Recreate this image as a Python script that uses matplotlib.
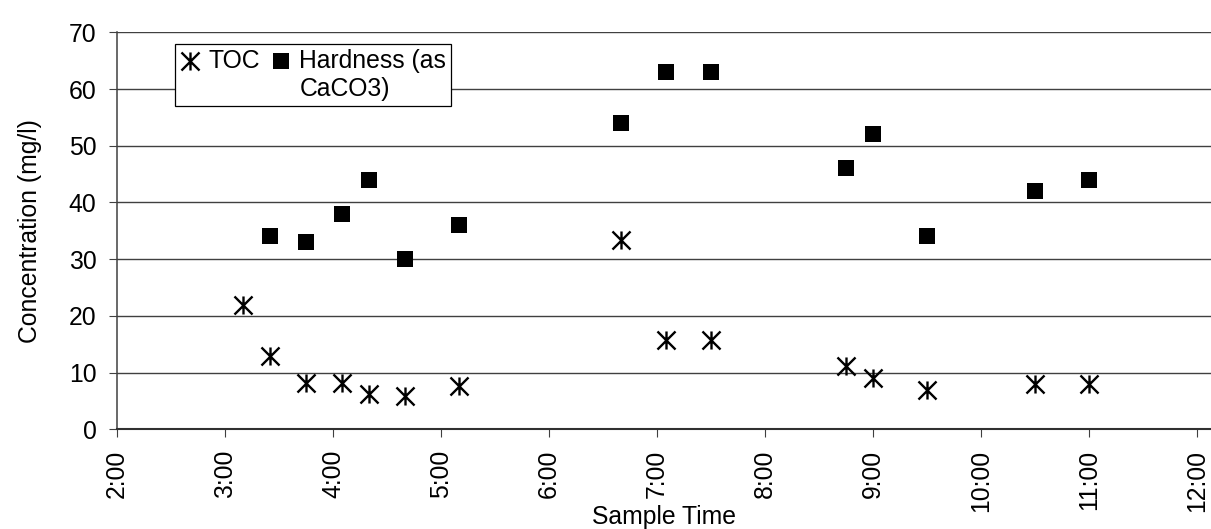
import numpy as np
import matplotlib
matplotlib.use("Agg")
import matplotlib.pyplot as plt
from matplotlib.path import Path
from matplotlib.legend_handler import HandlerLine2D

plt.rcParams['font.family'] = ['Liberation Sans', 'DejaVu Sans']

# sample times and measured concentrations (mg/l)
times = ['3:10', '3:25', '3:45', '4:05', '4:20', '4:40', '5:10', '6:40',
         '7:05', '7:30', '8:45', '9:00', '9:30', '10:30', '11:00']
toc = [22.0, 12.9, 8.2, 8.2, 6.3, 5.9, 7.6, 33.3, 15.8, 15.8, 11.1, 9.1, 6.9, 8.0, 8.0]
hardness = [np.nan, 34, 33, 38, 44, 30, 36, 54, 63, 63, 46, 52, 34, 42, 44]

tick_hours = list(range(2, 13))
tick_labels = ['%d:00' % h for h in tick_hours]
yticks = list(range(0, 71, 10))


def to_hours(t):
    h, m = t.split(':')
    return int(h) + int(m) / 60.0


x = [to_hours(t) for t in times]

# asterisk: vertical bar plus an X
star = Path([(0, -1), (0, 1), (-1, -1), (1, 1), (-1, 1), (1, -1)],
            [Path.MOVETO, Path.LINETO, Path.MOVETO, Path.LINETO, Path.MOVETO, Path.LINETO])


class TopHandler(HandlerLine2D):
    # put legend markers on the first text line
    def create_artists(self, legend, orig_handle, xdescent, ydescent,
                       width, height, fontsize, trans):
        arts = super().create_artists(legend, orig_handle, xdescent, ydescent,
                                      width, height, fontsize, trans)
        for a in arts:
            a.set_ydata(np.asarray(a.get_ydata(), dtype=float) + 0.58 * fontsize)
        return arts


fs = 17.8
fig = plt.figure(figsize=(12.11, 5.29), dpi=100)
ax = fig.add_axes([117 / 1211, (529 - 429.3) / 529, 1 - 117 / 1211, (429.3 - 32.3) / 529])

ax.plot(x, toc, linestyle='none', marker=star, markersize=13, markeredgewidth=1.7,
        color='black', label='TOC\n', zorder=3)
ax.plot(x, hardness, linestyle='none', marker='s', markersize=11.3, markeredgewidth=0,
        color='black', label='Hardness (as\nCaCO3)', zorder=3)

ax.set_xlim(2, 12.132)
ax.set_ylim(0, 70)
ax.set_xticks(tick_hours)
ax.set_xticklabels(tick_labels, rotation=90, fontsize=fs)
ax.set_yticks(yticks)
ax.tick_params(axis='y', labelsize=fs, length=5.8, width=0.8, color='#404040', pad=9)
ax.tick_params(axis='x', length=5.8, width=0.8, color='#404040', pad=9)

ax.yaxis.grid(True, color='#404040', linewidth=1.0)
ax.set_axisbelow(True)
for s in ['top', 'right']:
    ax.spines[s].set_visible(False)
ax.spines['left'].set_color('#404040')
ax.spines['left'].set_linewidth(1.1)
ax.spines['bottom'].set_color('#303030')
ax.spines['bottom'].set_linewidth(1.5)

ax.set_ylabel('Concentration (mg/l)', fontsize=fs)
ax.yaxis.set_label_coords(-0.069, 0.5)
ax.set_xlabel('Sample Time', fontsize=fs)
ax.xaxis.set_label_coords(0.5, -0.19)

leg = ax.legend(loc='upper left', bbox_to_anchor=(0.053, 0.9705), ncol=2,
                fontsize=fs, frameon=True, fancybox=False, framealpha=1,
                edgecolor='black', borderaxespad=0, borderpad=0.2,
                handlelength=0.85, handletextpad=0.3, columnspacing=0.45,
                labelspacing=0.1,
                handler_map={matplotlib.lines.Line2D: TopHandler()})
leg.get_frame().set_linewidth(0.9)

fig.savefig('out.png', dpi=100)
